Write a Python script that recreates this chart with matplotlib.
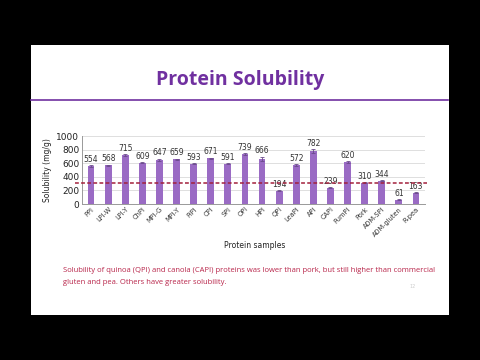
import matplotlib.pyplot as plt
import numpy as np
from matplotlib.patches import Rectangle

samples = ["PPI", "LPI-W", "LPI-Y", "ChPI", "MPI-G", "MPI-Y", "PiPI", "CPI", "SPI", "OPI",
           "HPI", "QPI", "LeaPI", "API", "CAPI", "PumPI", "Pork", "ADM-SPI", "ADM-gluten", "R-pea"]
solubility = [554, 568, 715, 609, 647, 659, 593, 671, 591, 739,
              666, 194, 572, 782, 239, 620, 310, 344, 61, 163]
errors = [15, 12, 14, 10, 18, 8, 10, 12, 8, 12,
          30, 10, 12, 25, 10, 12, 8, 10, 8, 8]
pork_level = 310

purple = "#7030A0"
bar_col = "#9A6BC4"
red_txt = "#B8254A"

fig = plt.figure(figsize=(4.8, 3.6), dpi=100)
fig.patch.set_facecolor("black")

# white slide area
fig.patches.append(Rectangle((31 / 480, 1 - 315 / 360), 418 / 480, 270 / 360,
                             transform=fig.transFigure, facecolor="white",
                             edgecolor="none", zorder=-1))

fig.text(0.5, 1 - 80 / 360, "Protein Solubility", ha="center", va="center",
         fontsize=14, fontweight="bold", color=purple, family="Open Sans")
fig.add_artist(plt.Line2D([31 / 480, 448 / 480], [1 - 100 / 360, 1 - 100 / 360],
                          transform=fig.transFigure, color=purple, lw=1.2))

ax = fig.add_axes([82 / 480, 1 - 204 / 360, 343 / 480, 68 / 360])
ax.set_zorder(2)
ax.set_facecolor("none")
x = np.arange(len(samples))
ax.bar(x, solubility, width=0.4, color=bar_col, zorder=3,
       yerr=errors, error_kw=dict(ecolor="#6a4a8a", elinewidth=0.6, capsize=1.2, capthick=0.6))
for xi, v, e in zip(x, solubility, errors):
    ax.text(xi, v + e + 20, str(v), ha="center", va="bottom", fontsize=5.5, color="#333333")

ax.axhline(pork_level, xmin=-0.02, xmax=1.005, clip_on=False, color="#A3203C",
           ls=(0, (2.5, 1.5)), lw=1.1, zorder=4)

ax.set_xlim(-0.53, len(samples) - 0.47)
ax.set_ylim(0, 1000)
ax.set_yticks(range(0, 1001, 200))
ax.yaxis.grid(True, color="#d9d9d9", lw=0.6, zorder=0)
ax.tick_params(axis="y", labelsize=6.5, length=0, pad=2, colors="#222222")
ax.tick_params(axis="x", length=0, pad=1.5)
ax.set_xticks(x)
ax.set_xticklabels(samples, rotation=45, ha="right", rotation_mode="anchor", fontsize=4.8,
                   color="#333333")
for s in ["top", "right"]:
    ax.spines[s].set_visible(False)
for s in ["left", "bottom"]:
    ax.spines[s].set_color("#999999")
    ax.spines[s].set_linewidth(0.7)
ax.set_ylabel("Solubility (mg/g)", fontsize=5.5, labelpad=3, color="#222222")

fig.text(255 / 480, 1 - 245 / 360, "Protein samples", ha="center", va="center",
         fontsize=5.5, color="#222222")

fig.text(63 / 480, 1 - 271 / 360,
         "Solubility of quinoa (QPI) and canola (CAPI) proteins was lower than pork, but still higher than commercial",
         ha="left", va="center", fontsize=5.5, color=red_txt, family="Open Sans")
fig.text(63 / 480, 1 - 282 / 360, "gluten and pea. Others have greater solubility.",
         ha="left", va="center", fontsize=5.5, color=red_txt, family="Open Sans")
fig.text(413 / 480, 1 - 287 / 360, "12", ha="center", va="center", fontsize=3.5, color="#cccccc")

fig.savefig("out.png", dpi=100, facecolor=fig.get_facecolor())
